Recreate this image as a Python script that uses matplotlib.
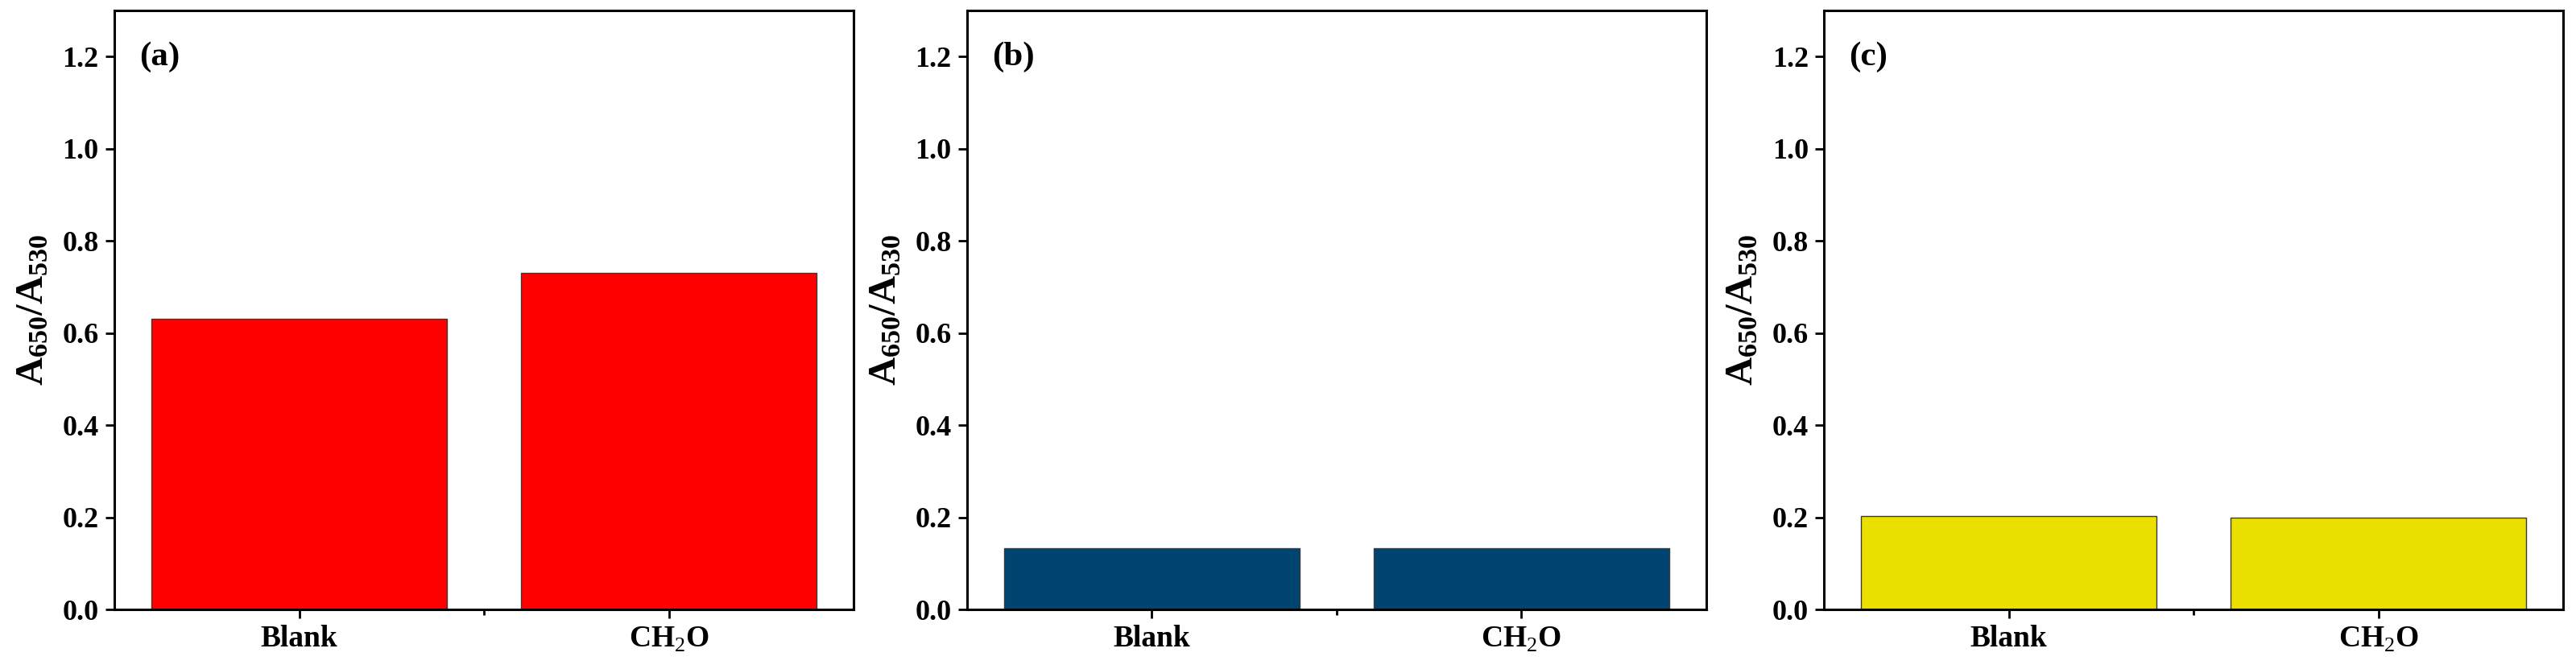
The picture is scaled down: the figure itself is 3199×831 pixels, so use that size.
import numpy as np
import matplotlib.pyplot as plt

plt.rcParams['font.family'] = ['Liberation Serif', 'DejaVu Serif']
plt.rcParams['mathtext.fontset'] = 'custom'
plt.rcParams['mathtext.rm'] = 'Liberation Serif'
plt.rcParams['mathtext.bf'] = 'Liberation Serif:bold'

# data
categories = ["Blank", "CH$_2$O"]
ratio_a = [0.631, 0.731]
ratio_b = [0.133, 0.133]
ratio_c = [0.202, 0.199]
panel_labels = ["(a)", "(b)", "(c)"]
bar_colors = ["#FF0000", "#004472", "#EBDF00"]
y_ticks = [0.0, 0.2, 0.4, 0.6, 0.8, 1.0, 1.2]

fig = plt.figure(figsize=(31.99, 8.31), dpi=100)

lefts = [0.0444, 0.3754, 0.7081]
x = np.arange(1, len(categories) + 1)

for left, vals, lab, col in zip(lefts, [ratio_a, ratio_b, ratio_c], panel_labels, bar_colors):
    ax = fig.add_axes([left, 0.089, 0.287, 0.8953])
    ax.bar(x, vals, width=0.8, color=col, edgecolor="#3a3a3a", linewidth=1.0)
    ax.set_xlim(0.5, 2.5)
    ax.set_ylim(0, 1.3)
    ax.set_xticks(x)
    ax.set_xticklabels(categories, fontsize=27, fontweight="bold")
    ax.set_xticks([1.5], minor=True)
    ax.set_yticks(y_ticks)
    ax.set_yticklabels([f"{v:.1f}" for v in y_ticks], fontsize=26, fontweight="bold")
    ax.tick_params(axis="both", which="major", direction="out", length=8, width=2, pad=6)
    ax.tick_params(axis="x", which="minor", direction="out", length=5, width=2)
    for sp in ax.spines.values():
        sp.set_linewidth(2.2)
    ax.set_ylabel(r"$\mathbf{A_{650}/A_{530}}$", fontsize=35, labelpad=10)
    ax.text(0.034, 0.923, lab, transform=ax.transAxes, fontsize=31, fontweight="bold",
            va="center", ha="left")

fig.savefig("out.png", dpi=100)
